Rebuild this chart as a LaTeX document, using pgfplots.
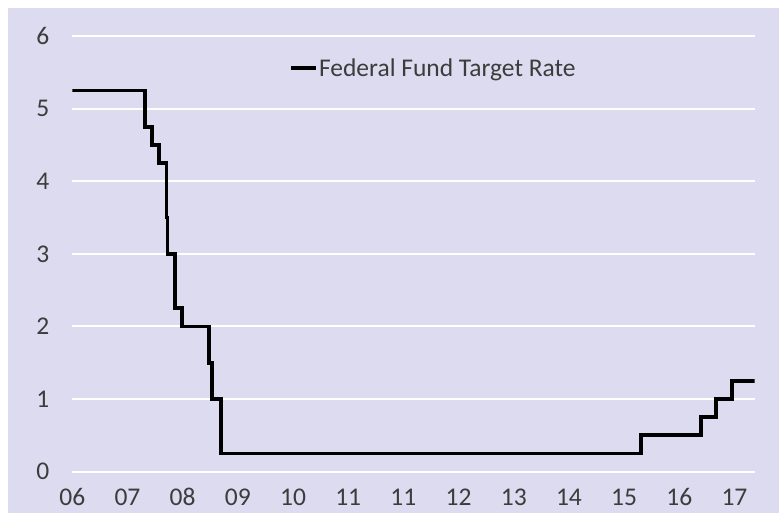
\documentclass[border=0pt]{standalone}
\usepackage{fontspec}
\setmainfont{Carlito}
\usepackage{pgfplots}
\pgfplotsset{compat=1.18}
\definecolor{lav}{RGB}{221,219,239}
\definecolor{txt}{RGB}{60,60,60}
\begin{document}
\begin{tikzpicture}[x=1pt,y=1pt]
\fill[white] (0,0) rectangle (779,513);
\fill[lav] (8,0) rectangle (779,505);
\begin{axis}[
  at={(72.3pt,41.3pt)}, anchor=south west,
  scale only axis, width=682.2pt, height=435.7pt,
  xmin=0, xmax=12.363, ymin=0, ymax=6,
  axis line style={draw=none},
  tick style={draw=none},
  ymajorgrids, grid style={white, line width=2pt},
  ytick={0,1,2,3,4,5,6},
  xtick={0,...,12},
  xticklabels={06,07,08,09,10,11,11,12,13,14,15,16,17},
  /pgf/number format/assume math mode=true,
  tick label style={font=\fontsize{25.5}{30}\selectfont, text=txt, inner sep=0pt},
  yticklabel style={anchor=east, xshift=-22.8pt},
  xticklabel style={anchor=base, yshift=-34.3pt},
  legend style={draw=none, fill=none, inner sep=0pt, outer sep=0pt,
    at={(0.3177,0.9266)}, anchor=west,
    font=\fontsize{25.5}{30}\selectfont, text=txt,
    nodes={inner sep=1pt}},
  legend cell align=left,
  legend image code/.code={\draw[line width=4pt, black] (0pt,0pt) -- (25pt,0pt);},
]
\addplot[const plot, black, line width=3.8pt] coordinates {
(0,5.25) (1.317,4.75) (1.444,4.5) (1.571,4.25) (1.707,3.5) (1.725,3.0)
(1.861,2.25) (1.993,2.0) (2.483,1.5) (2.537,1.0) (2.689,0.25)
(10.306,0.5) (11.393,0.75) (11.665,1.0) (11.955,1.25) (12.363,1.25)
};
\addlegendentry{Federal Fund Target Rate}
\end{axis}
\end{tikzpicture}
\end{document}
